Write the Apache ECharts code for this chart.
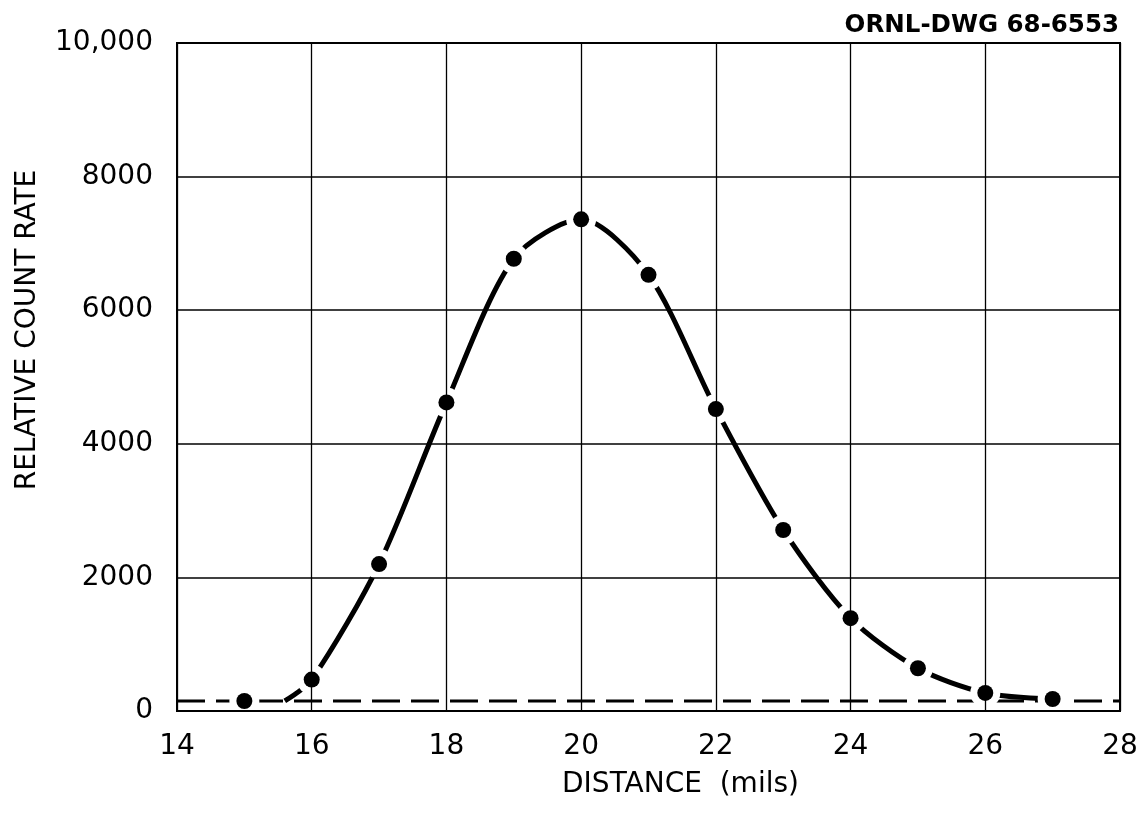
<!DOCTYPE html>
<html>
<head>
<meta charset="utf-8">
<script src="https://cdn.jsdelivr.net/npm/echarts@6/dist/echarts.min.js"></script>
<style>
  html, body { margin: 0; padding: 0; background: #fff; }
  #chart { width: 1147px; height: 816px; }
</style>
</head>
<body>
<div id="chart"></div>
<script>
// measured points (distance in mils, relative count rate)
var distance = [15, 16, 17, 18, 19, 20, 21, 22, 23, 24, 25, 26, 27];
var countRate = [150, 470, 2200, 4620, 6770, 7360, 6530, 4520, 2710, 1390, 640, 270, 180];

// hand-drawn curve (leaves the background at ~15.6)
var curveDistance = [15.6, 16, 17, 18, 19, 20, 21, 22, 23, 24, 25, 26, 27];
var curveRate = [150, 470, 2200, 4620, 6770, 7360, 6530, 4520, 2710, 1390, 640, 270, 180];

// dashed background level
var bgDistance = [14, 28];
var bgRate = [150, 150];

var xTicks = [14, 16, 18, 20, 22, 24, 26, 28];
var yTicks = [0, 2000, 4000, 6000, 8000, 10000];

function pairs(xs, ys) {
    var out = [];
    for (var i = 0; i < xs.length; i++) {
        out.push([xs[i], ys[i]]);
    }
    return out;
}

var font = 'DejaVu Sans';

var option = {
    animation: false,
    backgroundColor: '#fff',
    title: {
        text: 'ORNL-DWG 68-6553',
        right: 23,
        top: 8,
        textStyle: {
            fontFamily: font,
            fontSize: 24.5,
            fontWeight: 'bold',
            color: '#000'
        }
    },
    grid: {
        left: 177,
        right: 27,
        top: 43,
        bottom: 105,
        show: true,
        borderColor: '#000',
        borderWidth: 2
    },
    xAxis: {
        type: 'value',
        z: 6,
        min: xTicks[0],
        max: xTicks[xTicks.length - 1],
        interval: 2,
        name: 'DISTANCE  (mils)',
        nameLocation: 'middle',
        nameGap: 60,
        nameTextStyle: {
            fontFamily: font,
            fontSize: 28,
            color: '#000',
            padding: [0, 0, 0, 64]
        },
        axisLine: { show: true, lineStyle: { color: '#000', width: 2 } },
        axisTick: { show: false },
        axisLabel: {
            fontFamily: font,
            fontSize: 28,
            color: '#000',
            margin: 22
        },
        splitLine: { show: true, lineStyle: { color: '#000', width: 1.3 } }
    },
    yAxis: {
        type: 'value',
        z: 6,
        min: yTicks[0],
        max: yTicks[yTicks.length - 1],
        interval: 2000,
        name: 'RELATIVE COUNT RATE',
        nameLocation: 'middle',
        nameGap: 135,
        nameTextStyle: {
            fontFamily: font,
            fontSize: 28,
            color: '#000',
            padding: [0, 0, 0, 94]
        },
        axisLine: { show: true, lineStyle: { color: '#000', width: 2 } },
        axisTick: { show: false },
        axisLabel: {
            fontFamily: font,
            fontSize: 28,
            color: '#000',
            margin: 24,
            formatter: function (v) {
                return v >= 10000 ? '10,000' : String(v);
            }
        },
        splitLine: { show: true, lineStyle: { color: '#000', width: 1.5 } }
    },
    series: [
        {
            name: 'background',
            type: 'line',
            data: pairs(bgDistance, bgRate),
            symbol: 'none',
            z: 2,
            lineStyle: { color: '#000', width: 3, type: [28, 11] }
        },
        {
            name: 'curve',
            type: 'line',
            data: pairs(curveDistance, curveRate),
            symbol: 'none',
            smooth: 0.28,
            z: 3,
            lineStyle: { color: '#000', width: 5 }
        },
        {
            // white halo that breaks the curve around each point
            name: 'halo',
            type: 'scatter',
            data: pairs(distance, countRate),
            symbol: 'circle',
            symbolSize: 30,
            z: 4,
            silent: true,
            itemStyle: { color: '#fff', opacity: 1 }
        },
        {
            name: 'measured',
            type: 'scatter',
            data: pairs(distance, countRate),
            symbol: 'circle',
            symbolSize: 16,
            z: 5,
            itemStyle: { color: '#000', opacity: 1 }
        }
    ]
};

var chart = echarts.init(document.getElementById('chart'));
chart.setOption(option);
</script>
</body>
</html>
